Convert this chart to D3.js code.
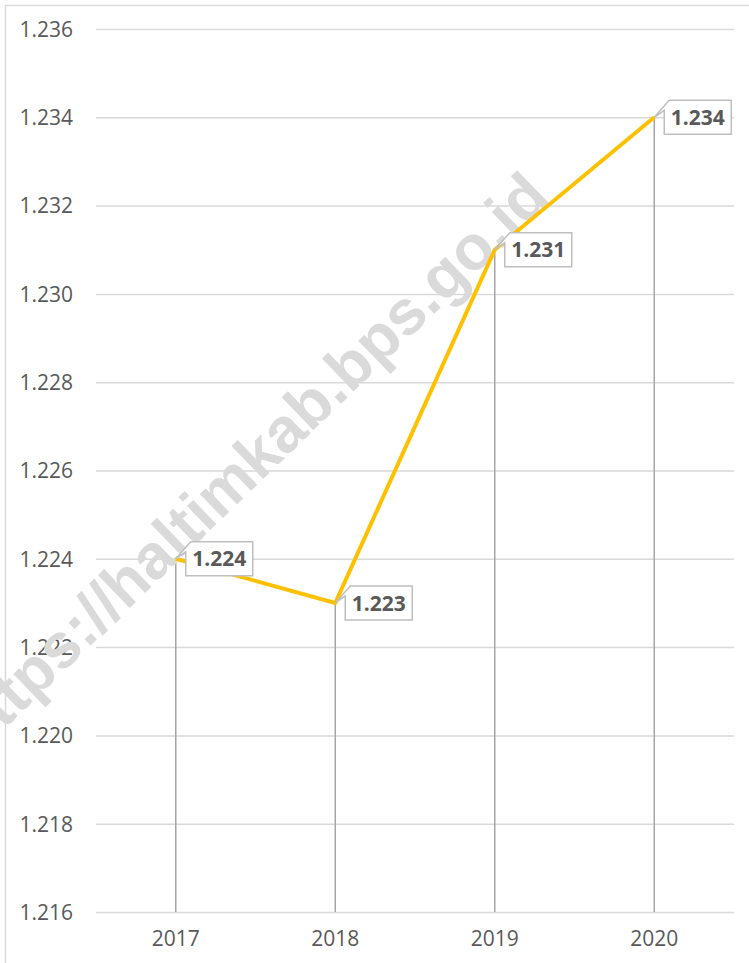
<!DOCTYPE html>
<html>
<head>
<meta charset="utf-8">
<script src="https://cdn.jsdelivr.net/npm/d3@7"></script>
<style>
  html, body { margin: 0; padding: 0; background: #fff; }
  svg { display: block; }
</style>
</head>
<body>
<svg id="chart" width="749" height="963"></svg>
<script>
// ---- data ----
const years = ["2017", "2018", "2019", "2020"];
const values = [1.224, 1.223, 1.231, 1.234];
const valueLabels = ["1.224", "1.223", "1.231", "1.234"];
const yTicks = [1.216, 1.218, 1.220, 1.222, 1.224, 1.226, 1.228, 1.230, 1.232, 1.234, 1.236];
const watermarkText = "https://haltimkab.bps.go.id";

// ---- layout ----
const svg = d3.select("#chart");
const W = 749, H = 963;
const plotLeft = 96, plotRight = 734, plotTop = 29, plotBottom = 912;
const textColor = "#595959";
const font = "'Open Sans', 'Liberation Sans', sans-serif";

const x = d3.scaleBand().domain(years).range([plotLeft, plotRight]).padding(0);
const y = d3.scaleLinear().domain([1.216, 1.236]).range([plotBottom, plotTop]);
const cx = d => x(d) + x.bandwidth() / 2;

// frame
svg.append("rect")
  .attr("x", 5.5).attr("y", 5.5)
  .attr("width", W + 10).attr("height", H + 10)
  .attr("fill", "#fff").attr("stroke", "#d9d9d9").attr("stroke-width", 1.5);

// gridlines + y labels
const yAxis = d3.axisLeft(y).tickValues(yTicks)
  .tickSize(-(plotRight - plotLeft)).tickPadding(23)
  .tickFormat(d => d3.format(".3f")(d));
const gy = svg.append("g").attr("transform", `translate(${plotLeft},0)`).call(yAxis);
gy.select(".domain").remove();
gy.selectAll(".tick line").attr("stroke", "#d9d9d9").attr("stroke-width", 1.5);
gy.selectAll(".tick text")
  .attr("fill", textColor).attr("font-family", font).attr("font-size", 21)
  .attr("dy", "0.35em");

// x axis labels
const xAxis = d3.axisBottom(x).tickSize(0).tickPadding(19);
const gx = svg.append("g").attr("transform", `translate(0,${plotBottom})`).call(xAxis);
gx.select(".domain").remove();
gx.selectAll(".tick text")
  .attr("fill", textColor).attr("font-family", font).attr("font-size", 21);

// drop lines
svg.append("g").selectAll("line")
  .data(years)
  .join("line")
  .attr("x1", d => cx(d)).attr("x2", d => cx(d))
  .attr("y1", (d, i) => y(values[i])).attr("y2", plotBottom)
  .attr("stroke", "#a6a6a6").attr("stroke-width", 1.5);

// watermark
svg.append("text")
  .attr("transform", "translate(552,200) rotate(-44)")
  .attr("text-anchor", "end")
  .attr("font-family", "'Liberation Sans', Arial, sans-serif")
  .attr("font-weight", "bold")
  .attr("font-size", 63)
  .attr("fill", "#dadada")
  .text(watermarkText);

// line
const line = d3.line().x((d, i) => cx(years[i])).y(d => y(d));
svg.append("path")
  .datum(values)
  .attr("d", line)
  .attr("fill", "none")
  .attr("stroke", "#FFC000")
  .attr("stroke-width", 4)
  .attr("stroke-linejoin", "round");

// callout labels
const bw = 67, bh = 34, offX = 10, offTop = 17;
const lab = svg.append("g").selectAll("g")
  .data(years)
  .join("g");
lab.append("path")
  .attr("d", (d, i) => {
    const px = cx(d), py = y(values[i]);
    const L = px + offX, T = py - offTop, R = L + bw, B = T + bh;
    return `M${L + 8},${T} L${R},${T} L${R},${B} L${L},${B} L${L},${T + 10} L${px},${py} L${L + 5},${T} Z`;
  })
  .attr("fill", "#fff")
  .attr("stroke", "#bfbfbf")
  .attr("stroke-width", 1.5);
lab.append("text")
  .attr("x", d => cx(d) + offX + bw / 2)
  .attr("y", (d, i) => y(values[i]) - offTop + bh / 2)
  .attr("dy", "0.36em")
  .attr("text-anchor", "middle")
  .attr("font-family", font)
  .attr("font-weight", "bold")
  .attr("font-size", 21)
  .attr("fill", textColor)
  .text((d, i) => valueLabels[i]);
</script>
</body>
</html>
